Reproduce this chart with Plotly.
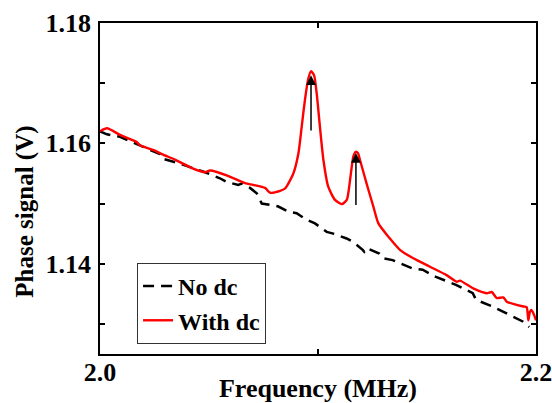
import plotly.graph_objects as go

# Phase signal vs. drive frequency, without and with a dc bias
freq_nodc = [2.0000, 2.0032, 2.0092, 2.0130, 2.0183, 2.0275, 2.0283, 2.0359, 2.0482, 2.0550,
             2.0581, 2.0634, 2.0650, 2.0688, 2.0719, 2.0742, 2.0795, 2.0818, 2.0868, 2.0902,
             2.0948, 2.0986, 2.1040, 2.1070, 2.1131, 2.1162, 2.1205, 2.1212, 2.1223, 2.1281,
             2.1299, 2.1342, 2.1434, 2.1480, 2.1541, 2.1633, 2.1710, 2.1725, 2.1801, 2.1878,
             2.1939, 2.1969]
phase_nodc = [1.1620, 1.1615, 1.1611, 1.1605, 1.1597, 1.1582, 1.1575, 1.1567, 1.1552, 1.1542,
              1.1536, 1.1531, 1.1533, 1.1526, 1.1517, 1.1500, 1.1497, 1.1495, 1.1486, 1.1484,
              1.1473, 1.1467, 1.1453, 1.1450, 1.1442, 1.1436, 1.1423, 1.1420, 1.1426, 1.1417,
              1.1409, 1.1406, 1.1392, 1.1390, 1.1378, 1.1365, 1.1351, 1.1340, 1.1329, 1.1315,
              1.1304, 1.1295]

freq_dc = [2.0000, 2.0032, 2.0092, 2.0170, 2.0183, 2.0252, 2.0284, 2.0344, 2.0422, 2.0482,
           2.0505, 2.0587, 2.0665, 2.0702, 2.0757, 2.0780, 2.0826, 2.0849, 2.0887, 2.0910,
           2.0925, 2.0940, 2.0954, 2.0968, 2.0982, 2.0994, 2.1009, 2.1025, 2.1047, 2.1078,
           2.1109, 2.1132, 2.1147, 2.1162, 2.1173, 2.1183, 2.1193, 2.1223, 2.1254, 2.1277,
           2.1327, 2.1376, 2.1437, 2.1514, 2.1590, 2.1636, 2.1651, 2.1712, 2.1774, 2.1797,
           2.1820, 2.1850, 2.1866, 2.1942, 2.1957, 2.1965, 2.1972, 2.1980, 2.1991, 2.2000]
phase_dc = [1.1620, 1.1625, 1.1614, 1.1602, 1.1597, 1.1588, 1.1582, 1.1573, 1.1559, 1.1552,
            1.1555, 1.1546, 1.1534, 1.1531, 1.1526, 1.1518, 1.1521, 1.1525, 1.1550, 1.1583,
            1.1627, 1.1672, 1.1705, 1.1720, 1.1713, 1.1683, 1.1627, 1.1572, 1.1528, 1.1506,
            1.1499, 1.1506, 1.1539, 1.1578, 1.1586, 1.1584, 1.1572, 1.1533, 1.1495, 1.1467,
            1.1443, 1.1423, 1.1409, 1.1395, 1.1381, 1.1370, 1.1372, 1.1359, 1.1351, 1.1353,
            1.1343, 1.1344, 1.1337, 1.1329, 1.1328, 1.1306, 1.1320, 1.1323, 1.1315, 1.1306]

# resonance markers: (frequency, arrow tip, arrow tail)
peak_freq = [2.0968, 2.1174]
peak_tip = [1.1713, 1.1584]
peak_tail = [1.1619, 1.1495]

x_tickvals = [2.0, 2.1, 2.2]
x_ticktext = ["2.0", "", "2.2"]
y_tickvals = [1.13, 1.14, 1.15, 1.16, 1.17, 1.18]
y_ticktext = ["", "1.14", "", "1.16", "", "1.18"]

FONT = "Liberation Serif, Times New Roman, serif"

fig = go.Figure()
fig.add_trace(go.Scatter(
    x=freq_nodc, y=phase_nodc, mode="lines", name="No dc",
    line=dict(color="black", width=2.5, dash="11px,7px"),
))
fig.add_trace(go.Scatter(
    x=freq_dc, y=phase_dc, mode="lines", name="With dc",
    line=dict(color="#ff0000", width=2.4, shape="spline", smoothing=0.6),
))

for f, tip, tail in zip(peak_freq, peak_tip, peak_tail):
    fig.add_annotation(
        x=f, y=tip, ax=f, ay=tail, xref="x", yref="y", axref="x", ayref="y",
        text="", showarrow=True, arrowhead=2, arrowsize=1.3, arrowwidth=1.5,
        arrowcolor="black", standoff=0, startstandoff=0,
    )

fig.add_annotation(
    text="Phase signal (V)", xref="paper", yref="paper", x=-0.172, y=0.43,
    textangle=-90, showarrow=False, xanchor="center", yanchor="middle",
    font=dict(family=FONT, size=25, color="black", weight="bold"),
)

axis_common = dict(
    showline=True, linecolor="black", linewidth=1.5, mirror="ticks",
    ticks="inside", ticklen=5, tickwidth=1.5, tickcolor="black",
    showgrid=False, zeroline=False, automargin=False, ticklabeloverflow="allow",
    tickfont=dict(family=FONT, size=26, color="black", weight="bold"),
)

fig.update_xaxes(
    range=[2.0, 2.2], tickmode="array", tickvals=x_tickvals, ticktext=x_ticktext,
    title=dict(text="Frequency (MHz)", standoff=2,
               font=dict(family=FONT, size=26, color="black", weight="bold")),
    ticklabelstandoff=-6,
    **axis_common,
)
fig.update_yaxes(
    range=[1.125, 1.18], tickmode="array", tickvals=y_tickvals, ticktext=y_ticktext,
    ticklabelstandoff=2,
    **axis_common,
)

fig.update_layout(
    width=552, height=403,
    margin=dict(l=100, r=16, t=23, b=49),
    paper_bgcolor="white", plot_bgcolor="white",
    font=dict(family=FONT, color="black"),
    showlegend=True,
    legend=dict(
        x=0.085, y=0.275, xanchor="left", yanchor="top",
        bgcolor="white", bordercolor="#333333", borderwidth=1,
        font=dict(family=FONT, size=24, color="black", weight="bold"),
        itemwidth=30, tracegroupgap=0,
    ),
)

fig.write_html("out.html")
